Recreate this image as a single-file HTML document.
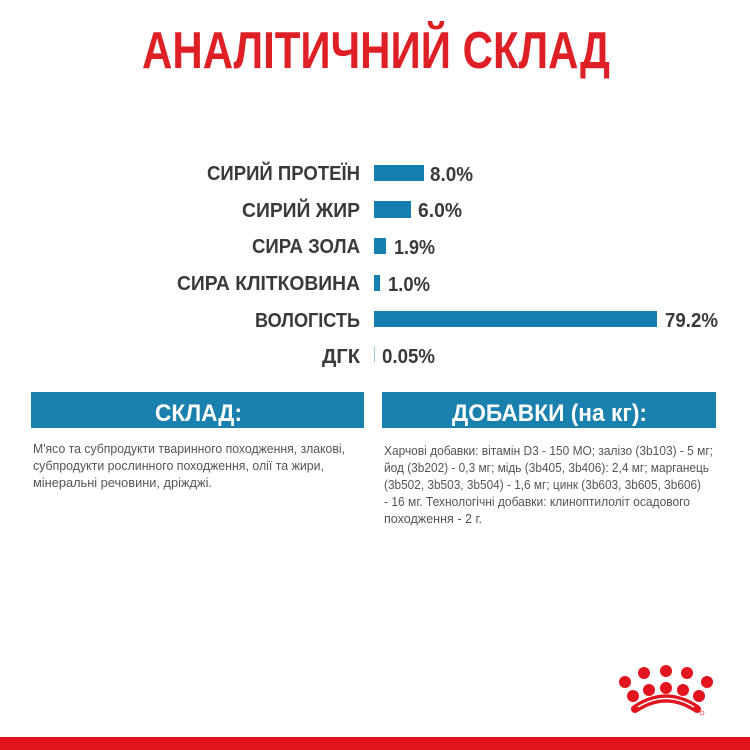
<!DOCTYPE html>
<html><head><meta charset="utf-8"><style>
html,body{margin:0;padding:0;background:#fff;}
svg{display:block;}
</style></head><body>
<svg width="750" height="750" viewBox="0 0 750 750" xmlns="http://www.w3.org/2000/svg">
<rect width="750" height="750" fill="#fff"/>
<text x="142" y="68" font-family="Liberation Sans, sans-serif" font-size="52" font-weight="bold" fill="#df1f26" textLength="468" lengthAdjust="spacingAndGlyphs">АНАЛІТИЧНИЙ СКЛАД</text>

<g font-family="Liberation Sans, sans-serif" font-weight="bold" font-size="20" fill="#3a3a3a" text-anchor="end">
<text x="360" y="180" textLength="153" lengthAdjust="spacingAndGlyphs">СИРИЙ ПРОТЕЇН</text>
<text x="360" y="217" textLength="118" lengthAdjust="spacingAndGlyphs">СИРИЙ ЖИР</text>
<text x="360" y="253" textLength="108" lengthAdjust="spacingAndGlyphs">СИРА ЗОЛА</text>
<text x="360" y="290" textLength="183" lengthAdjust="spacingAndGlyphs">СИРА КЛІТКОВИНА</text>
<text x="360" y="327" textLength="105" lengthAdjust="spacingAndGlyphs">ВОЛОГІСТЬ</text>
<text x="360" y="363" textLength="38" lengthAdjust="spacingAndGlyphs">ДГК</text>
</g>

<g fill="#1580b0">
<rect x="374" y="165" width="50" height="16"/>
<rect x="374" y="201" width="37" height="17"/>
<rect x="374" y="238" width="12" height="16"/>
<rect x="374" y="275" width="6" height="16"/>
<rect x="374" y="311" width="283" height="16"/>
<rect x="374" y="347" width="1" height="15" fill="#9cc7dc"/>
</g>

<g font-family="Liberation Sans, sans-serif" font-weight="bold" font-size="20" fill="#3a3a3a">
<text x="430" y="181" textLength="43" lengthAdjust="spacingAndGlyphs">8.0%</text>
<text x="418" y="217" textLength="44" lengthAdjust="spacingAndGlyphs">6.0%</text>
<text x="394" y="254" textLength="41" lengthAdjust="spacingAndGlyphs">1.9%</text>
<text x="388" y="291" textLength="42" lengthAdjust="spacingAndGlyphs">1.0%</text>
<text x="665" y="327" textLength="53" lengthAdjust="spacingAndGlyphs">79.2%</text>
<text x="382" y="363" textLength="53" lengthAdjust="spacingAndGlyphs">0.05%</text>
</g>

<rect x="31" y="392" width="333" height="36" fill="#1a80ae"/>
<rect x="382" y="392" width="334" height="36" fill="#1a80ae"/>
<g font-family="Liberation Sans, sans-serif" font-weight="bold" font-size="24" fill="#fff">
<text x="155" y="421" textLength="87" lengthAdjust="spacingAndGlyphs">СКЛАД:</text>
<text x="452" y="421" textLength="195" lengthAdjust="spacingAndGlyphs">ДОБАВКИ (на кг):</text>
</g>

<g font-family="Liberation Sans, sans-serif" font-size="12.5" fill="#555">
<text x="33" y="453" textLength="312" lengthAdjust="spacingAndGlyphs">М'ясо та субпродукти тваринного походження, злакові,</text>
<text x="33" y="470" textLength="291" lengthAdjust="spacingAndGlyphs">субпродукти рослинного походження, олії та жири,</text>
<text x="33" y="487" textLength="179" lengthAdjust="spacingAndGlyphs">мінеральні речовини, дріжджі.</text>

<text x="384" y="455" textLength="329" lengthAdjust="spacingAndGlyphs">Харчові добавки: вітамін D3 - 150 МО; залізо (3b103) - 5 мг;</text>
<text x="384" y="472" textLength="325" lengthAdjust="spacingAndGlyphs">йод (3b202) - 0,3 мг; мідь (3b405, 3b406): 2,4 мг; марганець</text>
<text x="384" y="489" textLength="317" lengthAdjust="spacingAndGlyphs">(3b502, 3b503, 3b504) - 1,6 мг; цинк (3b603, 3b605, 3b606)</text>
<text x="384" y="506" textLength="306" lengthAdjust="spacingAndGlyphs">- 16 мг. Технологічні добавки: клиноптилоліт осадового</text>
<text x="384" y="523" textLength="98" lengthAdjust="spacingAndGlyphs">походження - 2 г.</text>
</g>

<g fill="#e2151f">
<circle cx="625" cy="682" r="6"/>
<circle cx="644" cy="673" r="6"/>
<circle cx="666" cy="671" r="6"/>
<circle cx="687" cy="673" r="6"/>
<circle cx="707" cy="682" r="6"/>
<circle cx="633" cy="696" r="6"/>
<circle cx="649" cy="690" r="6"/>
<circle cx="666" cy="688" r="6"/>
<circle cx="683" cy="690" r="6"/>
<circle cx="699" cy="696" r="6"/>
</g>
<path d="M635 709 Q666 688 697 709" stroke="#e2151f" stroke-width="8" fill="none" stroke-linecap="round"/>
<path d="M638 707 Q666 690 694 707" stroke="#fff" stroke-width="1.5" fill="none"/>
<circle cx="702" cy="713" r="2" fill="none" stroke="#e2151f" stroke-width="0.6"/>

<rect x="0" y="737" width="750" height="13" fill="#e2151f"/>
</svg>
</body></html>
